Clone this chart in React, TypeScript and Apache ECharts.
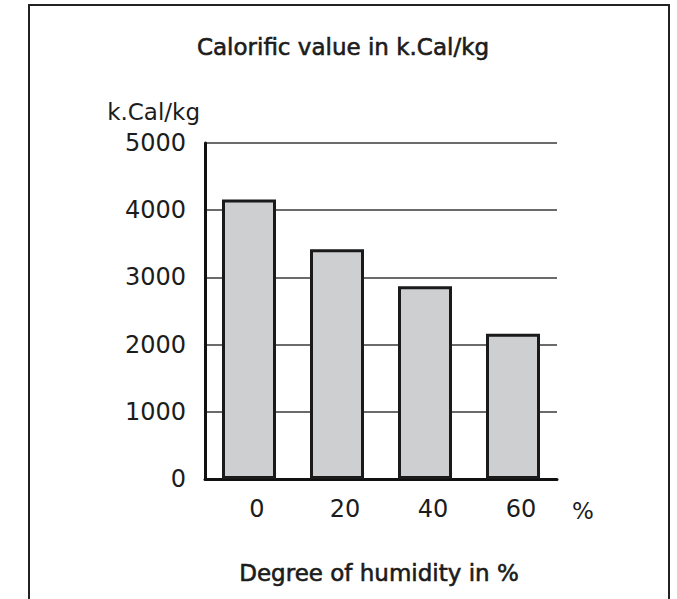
import React, { useEffect, useRef } from "react";
import * as echarts from "echarts";

const categories = ["0", "20", "40", "60"];
const calorificValues = [4160, 3420, 2870, 2160];
const yTicks = { min: 0, max: 5000, interval: 1000 };
const chartTitle = "Calorific value in k.Cal/kg";
const yUnit = "k.Cal/kg";
const xTitle = "Degree of humidity in %";
const xUnit = "%";

const FONT = "'DejaVu Sans', 'Liberation Sans', Arial, sans-serif";
const INK = "#1c1c1c";

export default function App() {
  const ref = useRef<HTMLDivElement>(null);

  useEffect(() => {
    if (!ref.current) return;
    const chart = echarts.init(ref.current, undefined, { renderer: "svg" });
    chart.setOption({
      animation: false,
      backgroundColor: "#ffffff",
      textStyle: { fontFamily: FONT },
      grid: { left: 205, right: 120, top: 143, bottom: 120, containLabel: false },
      xAxis: {
        type: "category",
        data: categories,
        axisLine: { show: true, lineStyle: { color: "#111", width: 3 } },
        axisTick: { show: false },
        axisLabel: {
          fontFamily: FONT,
          fontSize: 24,
          color: INK,
          margin: 18,
          padding: [0, 0, 0, 16],
        },
        splitLine: { show: false },
      },
      yAxis: {
        type: "value",
        min: yTicks.min,
        max: yTicks.max,
        interval: yTicks.interval,
        name: yUnit,
        nameLocation: "end",
        nameGap: 20,
        nameTextStyle: {
          fontFamily: FONT,
          fontSize: 23,
          color: INK,
          align: "right",
          padding: [0, 5, 0, 0],
        },
        axisLine: { show: true, lineStyle: { color: "#111", width: 3 } },
        axisTick: { show: false },
        axisLabel: {
          fontFamily: FONT,
          fontSize: 24,
          color: INK,
          margin: 19,
          formatter: (v: number) => String(v),
        },
        splitLine: { show: true, lineStyle: { color: "#3a3a3a", width: 1.5 } },
      },
      series: [
        {
          type: "bar",
          data: calorificValues,
          barWidth: 54,
          itemStyle: {
            color: "#cdcfd1",
            borderColor: "#1a1a1a",
            borderWidth: 3,
          },
          silent: true,
        },
      ],
      graphic: [
        {
          type: "rect",
          shape: { x: 29, y: 5, width: 640, height: 700 },
          style: { fill: "none", stroke: "#222", lineWidth: 2 },
          silent: true,
        },
        {
          type: "text",
          x: 343,
          y: 47,
          style: {
            text: chartTitle,
            fontFamily: FONT,
            fontSize: 23,
            fill: INK,
            stroke: INK,
            lineWidth: 0.6,
            textAlign: "center",
            textVerticalAlign: "middle",
          },
        },
        {
          type: "text",
          x: 583,
          y: 511,
          style: {
            text: xUnit,
            fontFamily: FONT,
            fontSize: 23,
            fill: INK,
            textAlign: "center",
            textVerticalAlign: "middle",
          },
        },
        {
          type: "text",
          x: 379,
          y: 573,
          style: {
            text: xTitle,
            fontFamily: FONT,
            fontSize: 23,
            fill: INK,
            stroke: INK,
            lineWidth: 0.6,
            textAlign: "center",
            textVerticalAlign: "middle",
          },
        },
      ],
    });
    return () => chart.dispose();
  }, []);

  return (
    <div
      ref={ref}
      style={{ position: "absolute", left: 0, top: 0, width: 677, height: 599 }}
    />
  );
}
